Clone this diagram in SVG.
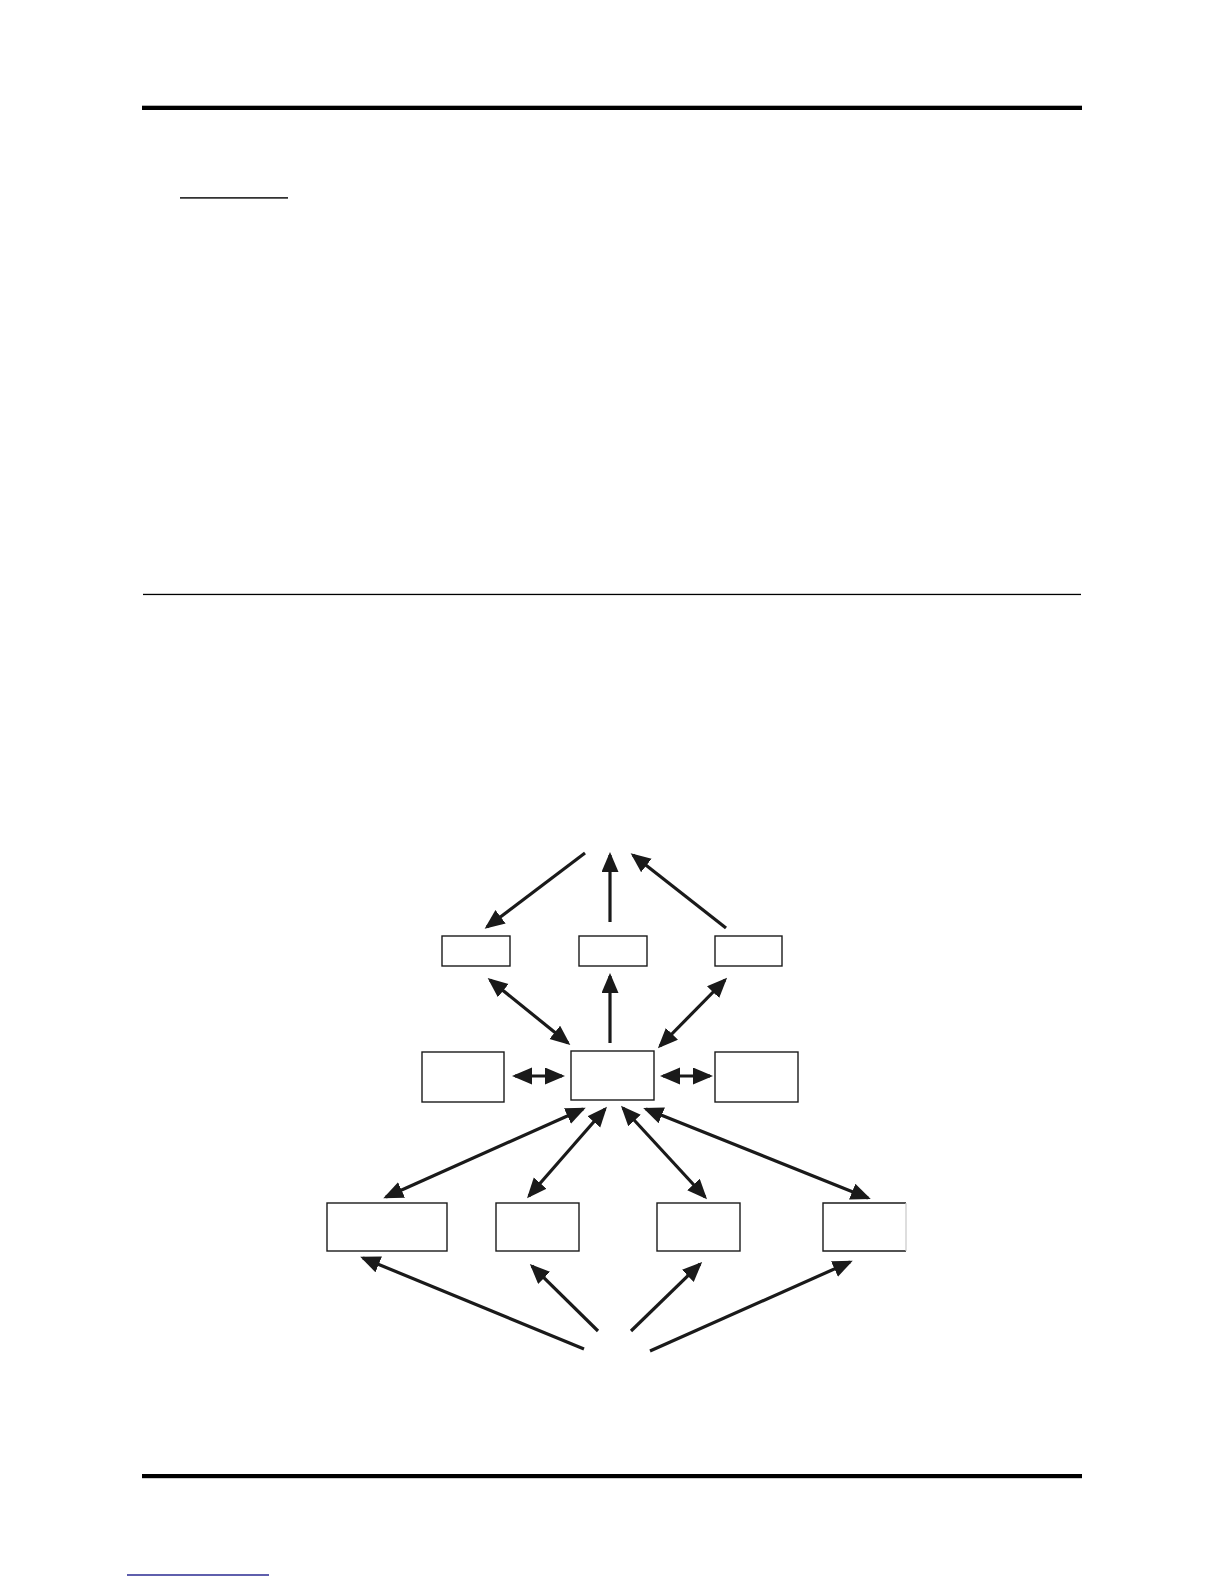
<svg xmlns="http://www.w3.org/2000/svg" width="1224" height="1584" viewBox="0 0 1224 1584">
  <style>
    .box { fill: #ffffff; stroke: #1a1a1a; stroke-width: 1.4; }
    .conn { stroke: #1a1a1a; stroke-width: 3.2; fill: none; }
    .one { marker-end: url(#ah); }
    .two { marker-start: url(#ah); marker-end: url(#ah); }
    .rule { fill: #000000; }
  </style>
  <defs>
    <marker id="ah" markerUnits="userSpaceOnUse" markerWidth="20" markerHeight="18" refX="17" refY="8.5" orient="auto-start-reverse" viewBox="0 0 20 18">
      <path d="M0,0 L20,8.5 L0,17 z" fill="#1a1a1a"/>
    </marker>
  </defs>
  <rect width="1224" height="1584" fill="#ffffff"/>

  <g id="page-rules">
    <rect class="rule" x="142" y="105.7" width="940" height="4.3"/>
    <rect class="rule" x="180" y="197.2" width="108" height="1.4"/>
    <rect class="rule" x="143" y="593.8" width="938" height="1.3"/>
    <rect class="rule" x="142" y="1474" width="940" height="4.2"/>
    <rect x="127" y="1574.3" width="142" height="1.4" fill="#1c1c8a"/>
  </g>

  <g id="node-top-left"><rect class="box" x="442" y="936" width="68" height="30"/></g>
  <g id="node-top-mid"><rect class="box" x="579" y="936" width="68" height="30"/></g>
  <g id="node-top-right"><rect class="box" x="715" y="936" width="67" height="30"/></g>

  <g id="node-mid-left"><rect class="box" x="422" y="1052" width="82" height="50"/></g>
  <g id="node-center"><rect class="box" x="571" y="1051" width="83" height="49"/></g>
  <g id="node-mid-right"><rect class="box" x="715" y="1052" width="83" height="50"/></g>

  <g id="node-bot-1"><rect class="box" x="327" y="1203" width="120" height="48"/></g>
  <g id="node-bot-2"><rect class="box" x="496" y="1203" width="83" height="48"/></g>
  <g id="node-bot-3"><rect class="box" x="657" y="1203" width="83" height="48"/></g>
  <g id="node-bot-4">
    <rect x="823" y="1203" width="83" height="48" fill="#ffffff"/>
    <path d="M906,1203 L823,1203 L823,1251 L906,1251" fill="none" stroke="#1a1a1a" stroke-width="1.4"/>
    <line x1="906" y1="1203" x2="906" y2="1251" stroke="#c8c8c8" stroke-width="1.2"/>
  </g>

  <g id="connectors">
    <line class="conn one" x1="585" y1="853" x2="487" y2="927"/>
    <line class="conn one" x1="610" y1="922" x2="610" y2="855"/>
    <line class="conn one" x1="726" y1="928" x2="633" y2="855"/>

    <line class="conn two" x1="490" y1="980" x2="568" y2="1043"/>
    <line class="conn one" x1="610" y1="1043" x2="610" y2="976"/>
    <line class="conn two" x1="725" y1="980" x2="660" y2="1046"/>

    <line class="conn two" x1="515" y1="1076" x2="562" y2="1076"/>
    <line class="conn two" x1="663" y1="1076" x2="710" y2="1076"/>

    <line class="conn two" x1="583" y1="1109" x2="386" y2="1197"/>
    <line class="conn two" x1="605" y1="1109" x2="529" y2="1196"/>
    <line class="conn two" x1="623" y1="1108" x2="705" y2="1197"/>
    <line class="conn two" x1="646" y1="1109" x2="868" y2="1198"/>

    <line class="conn one" x1="584" y1="1349" x2="363" y2="1258"/>
    <line class="conn one" x1="598" y1="1331" x2="532" y2="1266"/>
    <line class="conn one" x1="631" y1="1331" x2="700" y2="1264"/>
    <line class="conn one" x1="650" y1="1351" x2="850" y2="1262"/>
  </g>
</svg>
